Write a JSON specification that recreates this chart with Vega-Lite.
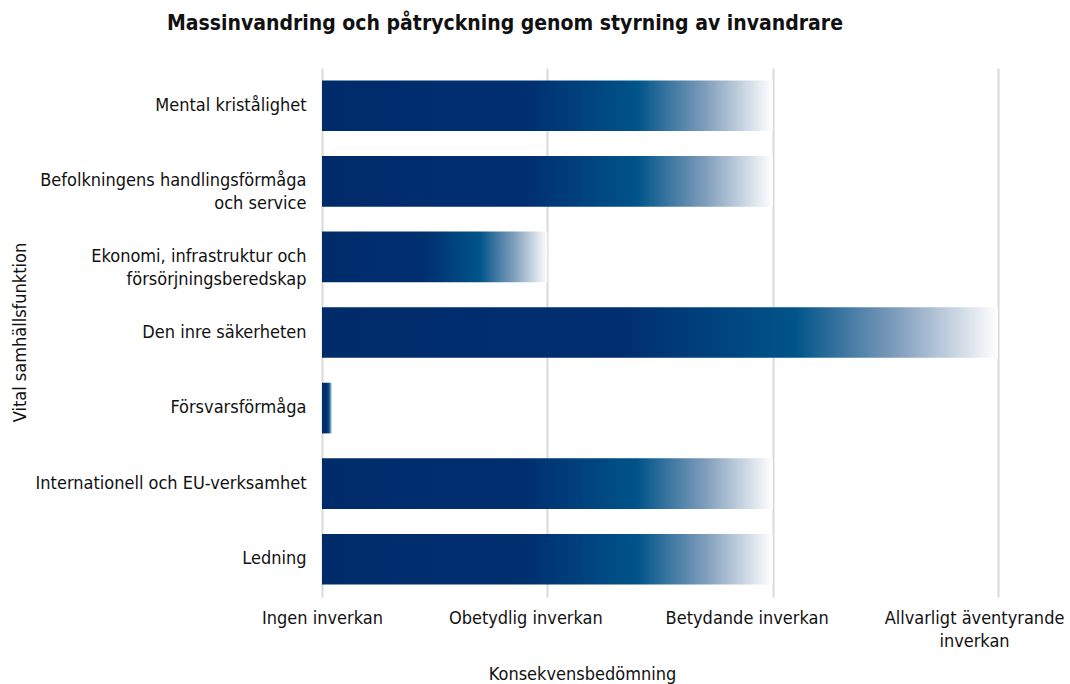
{
  "$schema": "https://vega.github.io/schema/vega-lite/v6.json",
  "autosize": "none",
  "width": 676,
  "height": 529,
  "padding": {"left": 322, "top": 68, "right": 72, "bottom": 87},
  "background": "white",
  "title": {
    "text": "Massinvandring och påtryckning genom styrning av invandrare",
    "font": "DejaVu Sans Condensed, DejaVu Sans, sans-serif",
    "fontSize": 21,
    "fontWeight": "bold",
    "color": "#111111",
    "anchor": "middle",
    "frame": "group",
    "dx": -155,
    "offset": 34
  },
  "data": {
    "values": [
      {"funktion": "Mental kristålighet", "value": 2},
      {"funktion": "Befolkningens handlingsförmåga|och service ", "value": 2},
      {"funktion": "Ekonomi, infrastruktur och|försörjningsberedskap", "value": 1},
      {"funktion": "Den inre säkerheten", "value": 3},
      {"funktion": "Försvarsförmåga", "value": 0.045},
      {"funktion": "Internationell och EU-verksamhet", "value": 2},
      {"funktion": "Ledning", "value": 2}
    ]
  },
  "mark": {
    "type": "bar",
    "color": {
      "gradient": "linear",
      "x1": 0, "y1": 0, "x2": 1, "y2": 0,
      "stops": [
        {"offset": 0, "color": "#002b6b"},
        {"offset": 0.45, "color": "#002f70"},
        {"offset": 0.7, "color": "#00548a"},
        {"offset": 0.85, "color": "#7f9dbb"},
        {"offset": 1, "color": "#ffffff"}
      ]
    }
  },
  "encoding": {
    "y": {
      "field": "funktion",
      "type": "nominal",
      "sort": null,
      "scale": {"paddingInner": 0.33, "paddingOuter": 0.165},
      "axis": {
        "title": "Vital samhällsfunktion",
        "titleFont": "DejaVu Sans Condensed, DejaVu Sans, sans-serif",
        "titleFontSize": 18,
        "titleFontWeight": "normal",
        "titleColor": "#111111",
        "titleX": -302,
        "titleY": 264,
        "titleAngle": -90,
        "titleBaseline": "middle",
        "titleAlign": "center",
        "labelExpr": "split(datum.label, '|')",
        "labelFont": "DejaVu Sans Condensed, DejaVu Sans, sans-serif",
        "labelFontSize": 18,
        "labelColor": "#111111",
        "labelLineHeight": 23,
        "labelPadding": 16,
        "labelLimit": 400,
        "ticks": false,
        "domain": false,
        "grid": false
      }
    },
    "x": {
      "field": "value",
      "type": "quantitative",
      "scale": {"domain": [0, 3], "nice": false, "zero": true},
      "axis": {
        "title": "Konsekvensbedömning",
        "titleFont": "DejaVu Sans Condensed, DejaVu Sans, sans-serif",
        "titleFontSize": 18,
        "titleFontWeight": "normal",
        "titleColor": "#111111",
        "titleX": 260,
        "titleY": 82,
        "titleAlign": "center",
        "titleBaseline": "alphabetic",
        "values": [0, 1, 2, 3],
        "labelExpr": "datum.value == 0 ? 'Ingen inverkan' : datum.value == 1 ? 'Obetydlig inverkan' : datum.value == 2 ? 'Betydande inverkan' : ['Allvarligt äventyrande', 'inverkan']",
        "labelOffset": {
          "condition": [
            {"test": "datum.value == 1", "value": -22},
            {"test": "datum.value == 2", "value": -26},
            {"test": "datum.value == 3", "value": -24}
          ],
          "value": 0
        },
        "labelFont": "DejaVu Sans Condensed, DejaVu Sans, sans-serif",
        "labelFontSize": 18,
        "labelColor": "#111111",
        "labelLineHeight": 23,
        "labelPadding": 12,
        "labelLimit": 400,
        "labelFlush": false,
        "labelOverlap": false,
        "labelBound": false,
        "ticks": false,
        "domain": false,
        "grid": true,
        "gridColor": "#d9d9d9",
        "gridWidth": 2
      }
    }
  },
  "config": {
    "view": {"stroke": null}
  }
}
